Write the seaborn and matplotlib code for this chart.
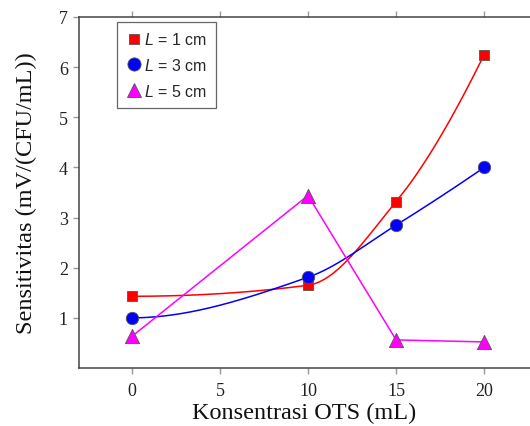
import matplotlib
matplotlib.use("Agg")
import matplotlib.pyplot as plt
from matplotlib.lines import Line2D
import numpy as np
import seaborn as sns

# data
konsentrasi = [0, 10, 15, 20]
sens_L1 = [1.43, 1.65, 3.32, 6.25]
sens_L3 = [1.00, 1.81, 2.85, 4.00]
sens_L5 = [0.63, 3.44, 0.56, 0.52]
labels = ["$L$ = 1 cm", "$L$ = 3 cm", "$L$ = 5 cm"]
x_ticks = [0, 5, 10, 15, 20]
y_ticks = [1, 2, 3, 4, 5, 6, 7]


def pchip(x, y, xs):
    # monotone cubic hermite curve through the points (like the smooth lines)
    x = np.asarray(x, float)
    y = np.asarray(y, float)
    h = np.diff(x)
    d = np.diff(y) / h
    n = len(x)
    m = np.zeros(n)
    for k in range(1, n - 1):
        if d[k - 1] * d[k] > 0:
            w1 = 2 * h[k] + h[k - 1]
            w2 = h[k] + 2 * h[k - 1]
            m[k] = (w1 + w2) / (w1 / d[k - 1] + w2 / d[k])

    def end(h0, h1, d0, d1):
        s = ((2 * h0 + h1) * d0 - h0 * d1) / (h0 + h1)
        if np.sign(s) != np.sign(d0):
            return 0.0
        if np.sign(d0) != np.sign(d1) and abs(s) > abs(3 * d0):
            return 3 * d0
        return s

    m[0] = end(h[0], h[1], d[0], d[1])
    m[-1] = end(h[-1], h[-2], d[-1], d[-2])
    idx = np.clip(np.searchsorted(x, xs) - 1, 0, n - 2)
    t = (xs - x[idx]) / h[idx]
    h00 = 2 * t**3 - 3 * t**2 + 1
    h10 = t**3 - 2 * t**2 + t
    h01 = -2 * t**3 + 3 * t**2
    h11 = t**3 - t**2
    return (h00 * y[idx] + h10 * h[idx] * m[idx]
            + h01 * y[idx + 1] + h11 * h[idx] * m[idx + 1])


sns.set_style("ticks")
plt.rcParams["font.family"] = ["Liberation Serif", "DejaVu Serif"]
plt.rcParams["mathtext.fontset"] = "custom"
plt.rcParams["mathtext.it"] = "Liberation Sans:italic"
plt.rcParams["mathtext.rm"] = "Liberation Sans"

fig = plt.figure(figsize=(5.3, 4.27), dpi=100)
ax = fig.add_axes([79 / 530, 58 / 427, 451 / 530, 351 / 427])

xs = np.linspace(0, 20, 400)
edge = "#555555"

sns.lineplot(x=xs, y=pchip(konsentrasi, sens_L1, xs), color="#ff0000",
             lw=1.1, ax=ax, estimator=None, sort=False)
sns.lineplot(x=xs, y=pchip(konsentrasi, sens_L3, xs), color="#0000ff",
             lw=1.1, ax=ax, estimator=None, sort=False)
sns.lineplot(x=konsentrasi, y=sens_L5, color="#ff00ff", lw=1.1, ax=ax,
             estimator=None, sort=False)

sns.scatterplot(x=konsentrasi, y=sens_L1, marker="s", s=48, color="#ff0000",
                edgecolor=edge, linewidth=0.6, ax=ax, zorder=5)
sns.scatterplot(x=konsentrasi, y=sens_L3, marker="o", s=80, color="#0000ff",
                edgecolor=edge, linewidth=0.6, ax=ax, zorder=5)
sns.scatterplot(x=konsentrasi, y=sens_L5, marker="^", s=105, color="#ff00ff",
                edgecolor=edge, linewidth=0.6, ax=ax, zorder=5)

ax.set_xlim(-3, 22.6)
ax.set_ylim(0, 7)
ax.set_xticks(x_ticks)
ax.set_yticks(y_ticks)
ax.tick_params(axis="both", direction="out", length=4, width=1,
               color="#999999", labelsize=13, labelcolor="#222222")
ax.tick_params(axis="x", top=True, labeltop=False, pad=6)
ax.tick_params(axis="y", pad=4)

for side in ["left", "bottom", "top"]:
    ax.spines[side].set_color("#444444")
    ax.spines[side].set_linewidth(1.1)
ax.spines["right"].set_visible(False)

ax.set_xlabel("Konsentrasi OTS (mL)", fontsize=17.5, labelpad=2, color="#111111")
ax.set_ylabel("Sensitivitas (mV/(CFU/mL))", fontsize=17.5, labelpad=16,
              color="#111111")

handles = [
    Line2D([], [], ls="none", marker="s", ms=7, mfc="#ff0000", mec=edge, mew=0.6),
    Line2D([], [], ls="none", marker="o", ms=9.5, mfc="#0000ff", mec=edge, mew=0.6),
    Line2D([], [], ls="none", marker="^", ms=10, mfc="#ff00ff", mec=edge, mew=0.6),
]
leg = ax.legend(handles, labels, loc="upper left", bbox_to_anchor=(0.084, 0.986),
                fancybox=False, framealpha=1, edgecolor="#666666",
                prop={"family": "Liberation Sans", "size": 11.5},
                handlelength=0.9, handletextpad=0.2, labelspacing=0.6,
                borderpad=0.6, borderaxespad=0)
leg.get_frame().set_linewidth(0.9)

fig.savefig("out.png", dpi=100)
